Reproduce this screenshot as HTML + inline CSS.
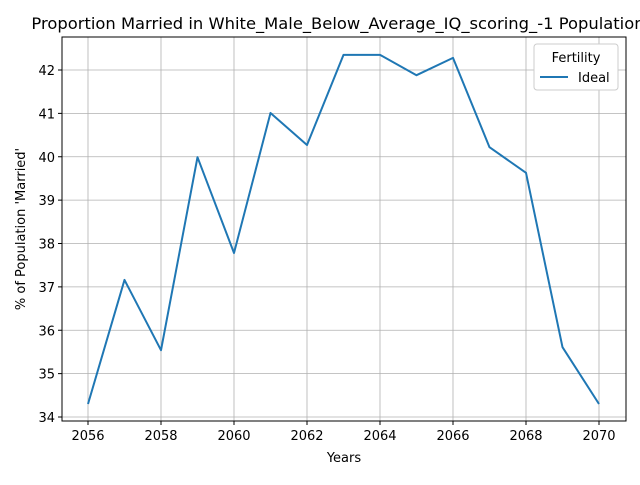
<!DOCTYPE html>
<html><head><meta charset="utf-8">
<style>
body{margin:0;background:#fff;}
svg{font-family:"DejaVu Sans","Liberation Sans",sans-serif;}
</style></head>
<body>
<svg id="chart" width="640" height="480" viewBox="0 0 640 480" xmlns="http://www.w3.org/2000/svg">
<rect width="640" height="480" fill="#fff"/>
<text x="338" y="29" font-size="16.35" text-anchor="middle" fill="#000">Proportion Married in White_Male_Below_Average_IQ_scoring_-1 Population</text>
<g id="grid"></g>
<g id="ticks"></g>
<rect x="62" y="37" width="564" height="384" fill="none" stroke="#000" stroke-width="1"/>
<g id="series"></g>
<text x="344" y="462" font-size="13" text-anchor="middle">Years</text>
<text x="25" y="229" font-size="13" text-anchor="middle" transform="rotate(-90 25 229)">% of Population 'Married'</text>
<g>
<rect x="534" y="44" width="84" height="46" rx="3" fill="#fff" stroke="#ccc"/>
<text x="576" y="62" font-size="13" text-anchor="middle">Fertility</text>
<line x1="540" y1="77" x2="568" y2="77" stroke="#1f77b4" stroke-width="2"/>
<text x="578" y="82" font-size="13">Ideal</text>
</g>
</svg>
<script>
const years=[2056,2057,2058,2059,2060,2061,2062,2063,2064,2065,2066,2067,2068,2069,2070];
const idealValues=[34.30,37.16,35.54,39.99,37.78,41.01,40.27,42.35,42.35,41.88,42.28,40.22,39.63,35.61,34.30];
const xTicks=[2056,2058,2060,2062,2064,2066,2068,2070];
const yTicks=[34,35,36,37,38,39,40,41,42];
const NS="http://www.w3.org/2000/svg";
const xs=v=>88+(v-2056)*(599-88)/14;
const ys=v=>417-(v-34)*(417-70)/8;
const grid=document.getElementById('grid'),ticks=document.getElementById('ticks'),series=document.getElementById('series');
function mk(t,a,p){const e=document.createElementNS(NS,t);for(const k in a)e.setAttribute(k,a[k]);p.appendChild(e);return e;}
xTicks.forEach(t=>{const x=xs(t);
const g=mk('line',{x1:x,x2:x,y1:37,y2:421,stroke:'#b0b0b0','stroke-width':0.8},grid);

mk('line',{x1:x,x2:x,y1:421,y2:425,stroke:'#000'},ticks);
const l=mk('text',{x:x,y:440,'font-size':13,'text-anchor':'middle'},ticks);l.textContent=t;
});
yTicks.forEach(t=>{const y=ys(t);
const g=mk('line',{x1:62,x2:626,y1:y,y2:y,stroke:'#b0b0b0','stroke-width':0.8},grid);

mk('line',{x1:58,x2:62,y1:y,y2:y,stroke:'#000'},ticks);
const l=mk('text',{x:55,y:y+5,'font-size':13,'text-anchor':'end'},ticks);l.textContent=t;
});
const pts=years.map((y,i)=>xs(y)+','+ys(idealValues[i])).join(' ');
const line=mk('polyline',{points:pts,fill:'none',stroke:'#1f77b4','stroke-width':2,'stroke-linejoin':'round'},series);


</script>
</body></html>
